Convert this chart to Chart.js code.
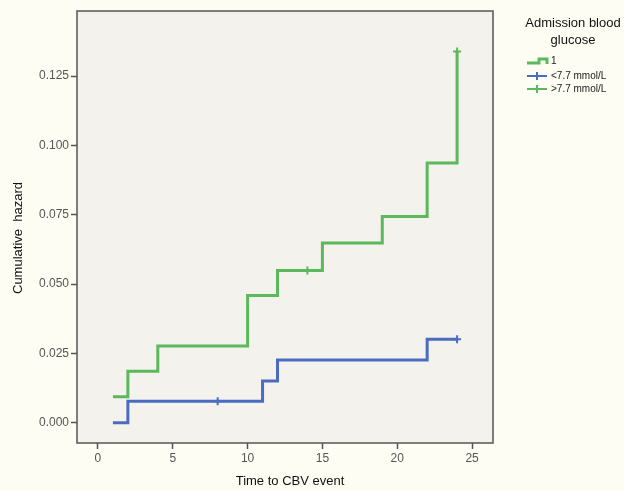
<!DOCTYPE html>
<html>
<head>
<meta charset="utf-8">
<script src="https://cdn.jsdelivr.net/npm/chart.js@4.4.1/dist/chart.umd.min.js"></script>
<style>
  html, body { margin:0; padding:0; background:#fdfdf3; }
  #wrap { position:relative; width:624px; height:490px; overflow:hidden; }
  canvas { display:block; }
</style>
</head>
<body>
<div id="wrap"><canvas id="c" width="624" height="490"></canvas></div>
<script>
// ---- data ----
const lowTimes   = [1, 2, 11, 12, 22, 24];
const lowHazard  = [0.000, 0.0078, 0.0151, 0.0226, 0.0301, 0.0301];
const lowCensorT = [8, 24];
const lowCensorH = [0.0078, 0.0301];

const highTimes   = [1, 2, 4, 10, 12, 15, 19, 22, 24];
const highHazard  = [0.0094, 0.0186, 0.0277, 0.0459, 0.0549, 0.0648, 0.0744, 0.0937, 0.1339];
const highCensorT = [14, 24];
const highCensorH = [0.0549, 0.1339];

const xTicks = [0, 5, 10, 15, 20, 25];
const yTicks = [0.000, 0.025, 0.050, 0.075, 0.100, 0.125];

const xTitle = 'Time to CBV event';
const yTitle = 'Cumulative  hazard';
const legendTitle = ["Admission blood", "glucose"];
const legendLabels = ["1", "<7.7 mmol/L", ">7.7 mmol/L"];

const BLUE = '#4a6cc0';
const GREEN = '#5cb85c';
const FONT = "'Liberation Sans', Arial, sans-serif";

const zip = (xs, ys) => xs.map((x, i) => ({x: x, y: ys[i]}));

const bgPlugin = {
  id: 'bgPlugin',
  beforeDraw(chart) {
    const {ctx, chartArea: a} = chart;
    ctx.save();
    ctx.fillStyle = '#fdfdf3';
    ctx.fillRect(0, 0, chart.width, chart.height);
    ctx.fillStyle = '#f4f2ed';
    ctx.fillRect(a.left, a.top, a.right - a.left, a.bottom - a.top);
    ctx.restore();
  },
  afterDraw(chart) {
    const {ctx, chartArea: a} = chart;
    ctx.save();
    ctx.strokeStyle = '#555555';
    ctx.lineWidth = 1.5;
    ctx.strokeRect(a.left, a.top, a.right - a.left, a.bottom - a.top);
    // axis titles
    ctx.fillStyle = '#111111';
    ctx.font = "13px " + FONT;
    ctx.textAlign = 'center';
    ctx.textBaseline = 'middle';
    ctx.fillText(xTitle, 290, 481);
    ctx.save();
    ctx.translate(18, 238);
    ctx.rotate(-Math.PI / 2);
    ctx.fillText(yTitle, 0, 0);
    ctx.restore();
    // legend
    ctx.fillText(legendTitle[0], 573, 23);
    ctx.fillText(legendTitle[1], 573, 40);
    ctx.font = "10px " + FONT;
    ctx.textAlign = 'left';
    const ys = [61, 76, 89];
    ctx.lineWidth = 3;
    ctx.strokeStyle = GREEN;
    ctx.beginPath();
    ctx.moveTo(527, 63); ctx.lineTo(539, 63); ctx.lineTo(539, 59); ctx.lineTo(547, 59); ctx.lineTo(547, 64);
    ctx.stroke();
    [[BLUE, ys[1]], [GREEN, ys[2]]].forEach(([col, y]) => {
      ctx.strokeStyle = col;
      ctx.lineWidth = 2;
      ctx.beginPath();
      ctx.moveTo(527, y); ctx.lineTo(547, y);
      ctx.moveTo(537, y - 4); ctx.lineTo(537, y + 4);
      ctx.stroke();
    });
    ctx.fillStyle = '#222222';
    legendLabels.forEach((t, i) => ctx.fillText(t, 551, ys[i]));
    ctx.restore();
  }
};

new Chart(document.getElementById('c'), {
  type: 'line',
  data: {
    datasets: [
      { label: legendLabels[1], data: zip(lowTimes, lowHazard), borderColor: BLUE, borderWidth: 3,
        stepped: 'before', pointRadius: 0, fill: false },
      { label: legendLabels[2], data: zip(highTimes, highHazard), borderColor: GREEN, borderWidth: 3,
        stepped: 'before', pointRadius: 0, fill: false },
      { type: 'scatter', data: zip(lowCensorT, lowCensorH), showLine: false, pointStyle: 'cross',
        pointRadius: 4, borderColor: BLUE, borderWidth: 2 },
      { type: 'scatter', data: zip(highCensorT, highCensorH), showLine: false, pointStyle: 'cross',
        pointRadius: 4, borderColor: GREEN, borderWidth: 2 }
    ]
  },
  options: {
    responsive: false,
    animation: false,
    events: [],
    layout: { padding: { left: 0, right: 131, top: 11, bottom: 0 } },
    plugins: { legend: { display: false }, tooltip: { enabled: false } },
    scales: {
      x: {
        type: 'linear', min: -1.4, max: 26.4,
        afterBuildTicks: s => { s.ticks = xTicks.map(v => ({value: v})); },
        afterFit: s => { s.height = 47; },
        grid: { display: true, drawOnChartArea: false, drawTicks: true, tickLength: 6, tickWidth: 1.5, tickColor: '#555' },
        border: { display: false },
        ticks: { color: '#555', font: { family: FONT, size: 12 }, padding: 2, maxRotation: 0 },
        title: { display: false }
      },
      y: {
        type: 'linear', min: -0.0073, max: 0.1485,
        afterBuildTicks: s => { s.ticks = yTicks.map(v => ({value: v})); },
        afterFit: s => { s.width = 77; },
        grid: { display: true, drawOnChartArea: false, drawTicks: true, tickLength: 6, tickWidth: 1.5, tickColor: '#555' },
        border: { display: false },
        ticks: { color: '#555', font: { family: FONT, size: 12 }, padding: 2,
                 callback: v => v.toFixed(3) },
        title: { display: false }
      }
    }
  },
  plugins: [bgPlugin]
});
</script>
</body>
</html>
